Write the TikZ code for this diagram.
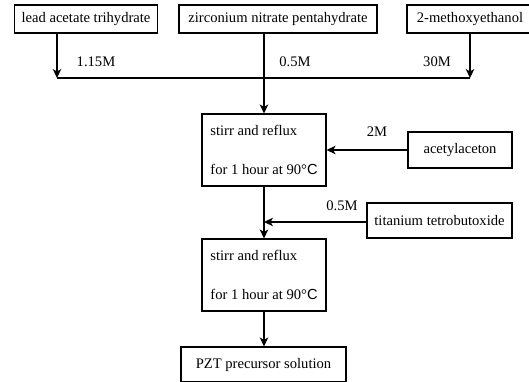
\documentclass[tikz,border=0pt]{standalone}
\usepackage{fontspec}
\setmainfont{Liberation Serif}
\newfontfamily\sansC{Liberation Sans}
\usetikzlibrary{arrows.meta}
\begin{document}
\begin{tikzpicture}[x=1pt,y=-1pt,
  font=\fontsize{14.6}{17}\selectfont,
  box/.style={draw,line width=1.1pt,rectangle,inner sep=0pt,minimum height=28pt},
  proc/.style={draw,line width=1.1pt,rectangle,inner sep=0pt,minimum width=124pt,minimum height=72pt,align=left},
  conn/.style={line width=1.1pt},
  arr/.style={line width=1.1pt,-{Stealth[length=9pt,width=8.5pt,inset=2.5pt]}},
  lbl/.style={inner sep=0pt}]
\useasboundingbox (0,0) rectangle (529,382);
\begin{scope}
\clip (0,0) rectangle (529,382);
\node[box,minimum width=143pt] (lead) at (86,19) {lead acetate trihydrate};
\node[box,minimum width=198pt] (zr) at (278,19) {zirconium nitrate pentahydrate};
\node[box,minimum width=126pt] (meth) at (470,19) {2-methoxyethanol};
\node[proc] (s1) at (264,150) {stirr and reflux\\[22pt]for 1 hour at 90°{\sansC C}};
\node[box,minimum width=104pt,minimum height=36pt] (acet) at (460,150) {acetylaceton};
\node[box,minimum width=145pt,minimum height=35pt] (ti) at (439.5,220.5) {titanium tetrobutoxide};
\node[proc] (s2) at (264,275) {stirr and reflux\\[22pt]for 1 hour at 90°{\sansC C}};
\node[box,minimum width=165pt,minimum height=35pt] (pzt) at (263.5,364.5) {PZT precursor solution};
\end{scope}
\coordinate (jl) at (57,78);
\coordinate (jr) at (470,78);
\coordinate (jm) at (264,78);
\coordinate (jt) at (264,222);
\draw[arr] (jl |- lead.south) -- (jl);
\draw[arr] (jr |- meth.south) -- (jr);
\draw[conn] (jl) -- (jr);
\draw[conn] (jm |- zr.south) -- (jm);
\draw[arr] (jm) -- (s1.north);
\draw[arr] (acet.west) -- (s1.east);
\draw[conn] (s1.south) -- (jt);
\draw[arr] (jt) -- (s2.north);
\draw[arr] (ti.west |- jt) -- (jt);
\draw[arr] (s2.south) -- (s2.south |- pzt.north);
\node[lbl] (l1) at (96,62) {1.15M};
\node[lbl] (l2) at (295,62) {0.5M};
\node[lbl] (l3) at (437,62) {30M};
\node[lbl] (l4) at (377,132) {2M};
\node[lbl] (l5) at (342,206) {0.5M};
\end{tikzpicture}
\end{document}
